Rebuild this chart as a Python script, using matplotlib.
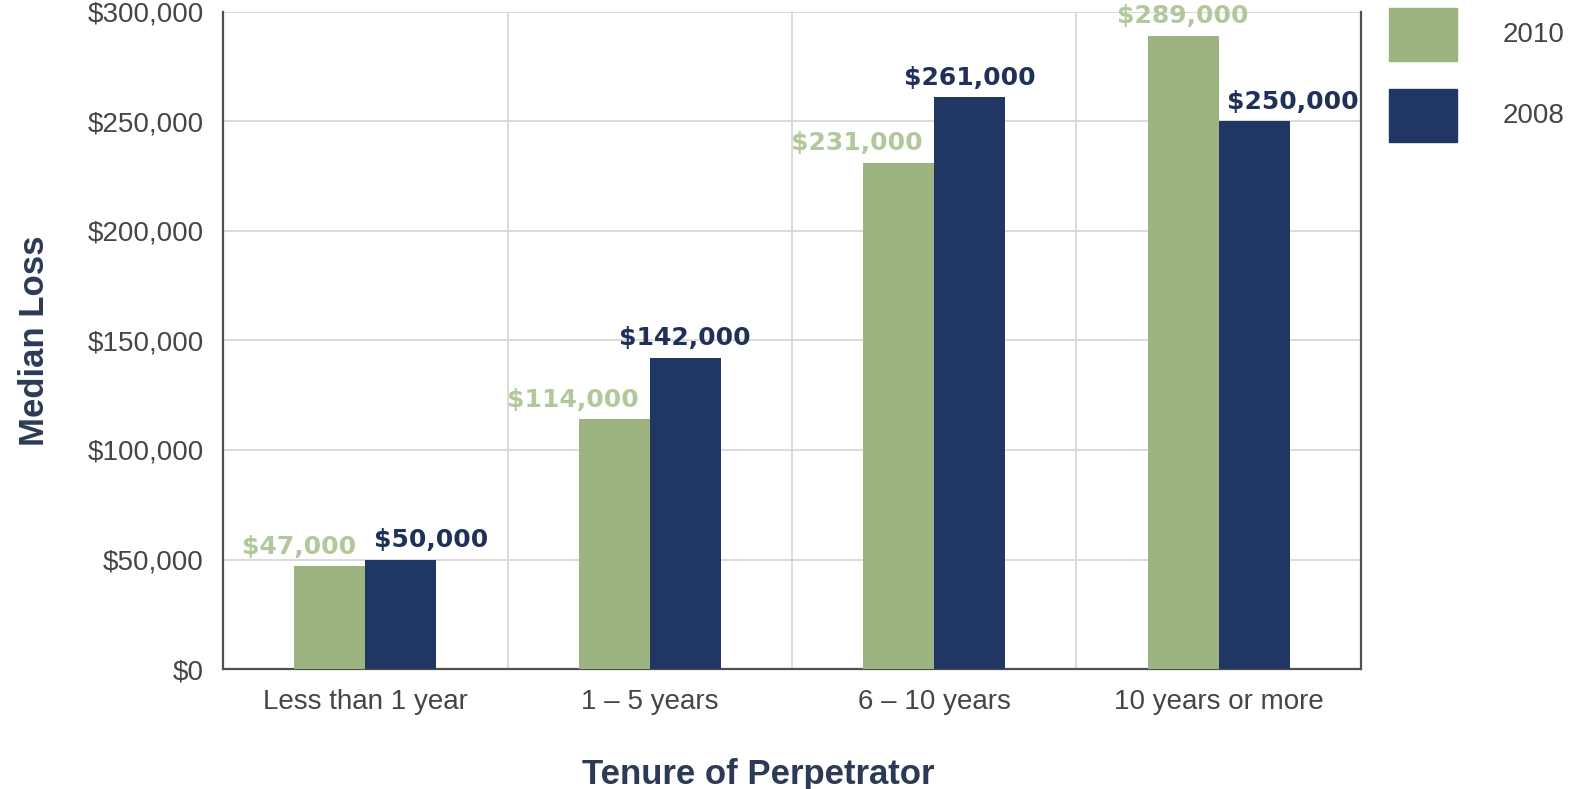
import matplotlib.pyplot as plt
import numpy as np
from matplotlib.patches import Rectangle
from matplotlib.ticker import FuncFormatter

plt.rcParams['font.family'] = ['Liberation Sans', 'DejaVu Sans']

categories = ['Less than 1 year', '1 \u2013 5 years', '6 \u2013 10 years', '10 years or more']
series = ['2010', '2008']
loss_2010 = [47000, 114000, 231000, 289000]
loss_2008 = [50000, 142000, 261000, 250000]

green = '#9db480'
green_text = '#b3c79c'
navy = '#1f3762'
navy_text = '#1f3158'
title_col = '#2c3a56'

# label nudges (points) so neighbouring value labels don't collide
dx_2010 = [-22, -30, -30, 0]
dx_2008 = [22, 0, 0, 28]

W, H = 1575, 789
fig = plt.figure(figsize=(W / 100, H / 100), dpi=100)
ax = fig.add_axes([0.1416, 0.152, 0.7225, 0.833])

x = np.arange(len(categories))
w = 0.25
b1 = ax.bar(x - w / 2, loss_2010, w, color=green, zorder=3)
b2 = ax.bar(x + w / 2, loss_2008, w, color=navy, zorder=3)

for bars, vals, dxs, col in [(b1, loss_2010, dx_2010, green_text), (b2, loss_2008, dx_2008, navy_text)]:
    for rect, v, dx in zip(bars, vals, dxs):
        ax.annotate(f'${v:,.0f}', (rect.get_x() + rect.get_width() / 2, v),
                    xytext=(dx, 9), textcoords='offset points', ha='center', va='baseline',
                    fontsize=18, fontweight='bold', family='DejaVu Sans', color=col,
                    zorder=4, annotation_clip=False)

ax.set_xlim(-0.5, 3.5)
ax.set_ylim(0, 300000)
ax.set_yticks(np.arange(0, 300001, 50000))
ax.yaxis.set_major_formatter(FuncFormatter(lambda v, p: f'${v:,.0f}'))
ax.set_xticks(x)
ax.set_xticklabels(categories)
ax.set_xticks([0.5, 1.5, 2.5], minor=True)
ax.tick_params(axis='both', which='both', length=0, labelsize=20, colors='#454545')
ax.tick_params(axis='y', pad=14)
ax.tick_params(axis='x', pad=14)

ax.grid(axis='y', which='major', color='#d4d4d4', lw=1.2, zorder=0)
ax.grid(axis='x', which='minor', color='#d4d4d4', lw=1.2, zorder=0)
ax.grid(axis='x', which='major', visible=False)

for s in ['left', 'bottom', 'right']:
    ax.spines[s].set_color('#505050')
    ax.spines[s].set_linewidth(1.6)
ax.spines['top'].set_visible(False)

ax.set_ylabel('Median Loss', fontsize=25, fontweight='bold', color=title_col, labelpad=26)
ax.set_xlabel('Tenure of Perpetrator', fontsize=25, fontweight='bold', color=title_col)
ax.xaxis.set_label_coords(0.47, -0.16)
ax.xaxis.label.set_va('center')

# legend swatches drawn directly on the figure
for i, (name, col) in enumerate(zip(series, [green, navy])):
    top = 8 + i * 81
    fig.add_artist(Rectangle((1389 / W, 1 - (top + 53) / H), 68 / W, 53 / H,
                             transform=fig.transFigure, color=col))
    fig.text(1503 / W, 1 - (top + 27) / H, name, fontsize=20, color='#454545', va='center')

fig.savefig('out.png', dpi=100)
